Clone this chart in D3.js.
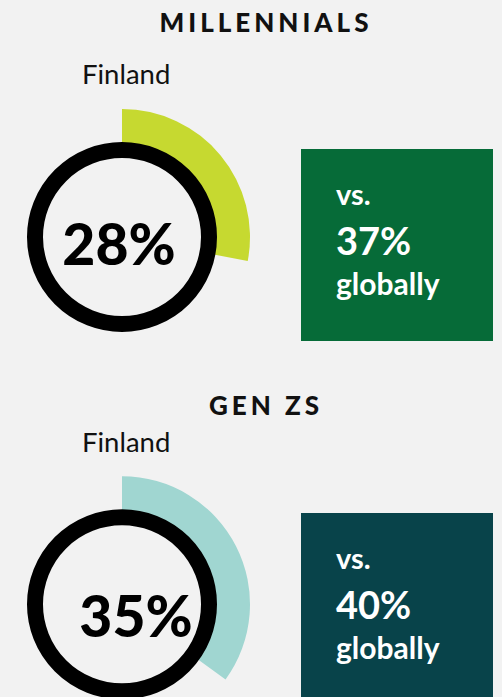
<!DOCTYPE html>
<html>
<head>
<meta charset="utf-8">
<script src="https://cdn.jsdelivr.net/npm/d3@7"></script>
<style>
  html, body { margin: 0; padding: 0; background: #f2f2f2; }
  svg { display: block; font-family: Lato, "Open Sans", sans-serif; }
</style>
</head>
<body>
<svg id="chart" width="502" height="697"></svg>
<script>
// Share of respondents in Finland vs. the global average, by generation
const groups = ["MILLENNIALS", "GEN ZS"];
const country = "Finland";
const countryShare = [28, 35];
const globalShare = [37, 40];

// Styling per generation
const arcColors = ["#c6d930", "#a0d6d1"];
const boxColors = ["#066b38", "#08434a"];

// Vertical placement of each panel
const layout = [
  { titleY: 31.5, labelY: 84.3, cy: 237, pctDx: -3, pctDy: 28, boxY: 149 },
  { titleY: 415, labelY: 451.7, cy: 604.3, pctDx: 14, pctDy: 33, boxY: 513 }
];

const svg = d3.select("#chart");
const cx = 122;
const angle = d3.scaleLinear().domain([0, 100]).range([0, 2 * Math.PI]);
const arc = d3.arc().innerRadius(88).outerRadius(128).startAngle(0);

const panels = svg.selectAll("g.panel")
  .data(groups.map((g, i) => ({
    name: g, local: countryShare[i], global: globalShare[i],
    arcColor: arcColors[i], boxColor: boxColors[i], pos: layout[i]
  })))
  .join("g").attr("class", "panel");

// Generation heading
panels.append("text")
  .attr("x", 266).attr("y", d => d.pos.titleY)
  .attr("text-anchor", "middle")
  .attr("font-size", 26).attr("font-weight", 900)
  .attr("letter-spacing", 4)
  .attr("fill", "#111")
  .text(d => d.name);

// Country label
panels.append("text")
  .attr("x", 82).attr("y", d => d.pos.labelY)
  .attr("font-size", 27.5)
  .attr("fill", "#111")
  .text(country);

// Share arc behind the ring
panels.append("path")
  .attr("transform", d => `translate(${cx},${d.pos.cy})`)
  .attr("fill", d => d.arcColor)
  .attr("d", d => arc({ endAngle: angle(d.local) }));

// Black ring
panels.append("circle")
  .attr("cx", cx).attr("cy", d => d.pos.cy)
  .attr("r", 87)
  .attr("fill", "none")
  .attr("stroke", "#000")
  .attr("stroke-width", 16);

// Country percentage
panels.append("text")
  .attr("x", d => cx + d.pos.pctDx)
  .attr("y", d => d.pos.cy + d.pos.pctDy)
  .attr("text-anchor", "middle")
  .attr("font-size", 57).attr("font-weight", 900)
  .attr("fill", "#000")
  .text(d => d.local + "%");

// Global comparison box
panels.append("rect")
  .attr("x", 301).attr("y", d => d.pos.boxY)
  .attr("width", 192).attr("height", 192)
  .attr("fill", d => d.boxColor);

const boxText = panels.append("g")
  .attr("transform", d => `translate(336,${d.pos.boxY})`)
  .attr("fill", "#fff")
  .attr("font-weight", 700);

boxText.append("text").attr("y", 56).attr("font-size", 29).text("vs.");
boxText.append("text").attr("y", 106).attr("font-size", 38).text(d => d.global + "%");
boxText.append("text").attr("y", 146).attr("font-size", 30).text("globally");
</script>
</body>
</html>
